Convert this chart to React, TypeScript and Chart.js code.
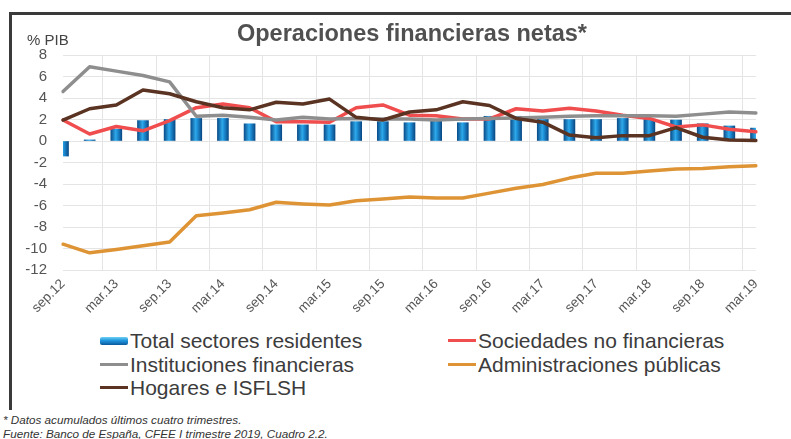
import React, { useEffect, useRef } from "react";
import { Chart, registerables } from "chart.js";
Chart.register(...registerables);

const quarters = [
  "sep.12", "dic.12", "mar.13", "jun.13", "sep.13", "dic.13", "mar.14", "jun.14",
  "sep.14", "dic.14", "mar.15", "jun.15", "sep.15", "dic.15", "mar.16", "jun.16",
  "sep.16", "dic.16", "mar.17", "jun.17", "sep.17", "dic.17", "mar.18", "jun.18",
  "sep.18", "dic.18", "mar.19",
];

const totalSectores = [
  -1.4, 0.1, 1.1, 1.9, 2.0, 2.1, 2.1, 1.6, 1.5, 1.5, 1.5, 1.8, 1.8, 1.7, 1.95, 1.7,
  2.3, 2.3, 2.0, 2.0, 2.0, 2.1, 2.0, 1.95, 1.6, 1.4, 1.2,
];
const sociedades = [
  1.95, 0.65, 1.35, 0.95, 1.9, 3.1, 3.45, 3.1, 1.8, 1.8, 1.75, 3.1, 3.35, 2.4, 2.35, 2.05,
  2.05, 3.0, 2.8, 3.05, 2.8, 2.4, 2.1, 1.3, 1.5, 1.1, 0.85,
];
const instituciones = [
  4.6, 6.9, 6.5, 6.1, 5.5, 2.3, 2.4, 2.2, 1.95, 2.2, 2.05, 2.1, 2.05, 2.05, 1.95, 2.05,
  2.1, 2.15, 2.2, 2.3, 2.35, 2.35, 2.35, 2.3, 2.5, 2.7, 2.6,
];
const administraciones = [
  -9.6, -10.4, -10.1, -9.75, -9.4, -6.95, -6.7, -6.4, -5.7, -5.85, -5.95, -5.55, -5.4, -5.2,
  -5.3, -5.3, -4.85, -4.4, -4.05, -3.45, -3.0, -3.0, -2.8, -2.6, -2.55, -2.4, -2.3,
];
const hogares = [
  1.95, 3.0, 3.35, 4.75, 4.4, 3.65, 3.1, 2.9, 3.6, 3.45, 3.9, 2.2, 1.95, 2.7, 2.9, 3.65,
  3.3, 2.1, 1.75, 0.55, 0.3, 0.5, 0.5, 1.25, 0.35, 0.1, 0.05,
];

const seriesNames = [
  "Total sectores residentes",
  "Sociedades no financieras",
  "Instituciones financieras",
  "Administraciones públicas",
  "Hogares e ISFLSH",
];
const seriesColors = ["#1a86c8", "#f04e4e", "#8e8e8e", "#de9435", "#5a3322"];

const FONT = '"Liberation Sans", Arial, Helvetica, sans-serif';

export default function App() {
  const canvasRef = useRef<HTMLCanvasElement | null>(null);

  useEffect(() => {
    const canvas = canvasRef.current;
    if (!canvas) return;

    const barFill = (ctx: any) => {
      const chart = ctx.chart;
      const xs = chart.scales && chart.scales.x;
      if (!xs || ctx.dataIndex === undefined) return "#1a86c8";
      const x = xs.getPixelForValue(ctx.dataIndex);
      if (!Number.isFinite(x)) return "#1a86c8";
      const g = chart.ctx.createLinearGradient(x - 5.5, 0, x + 5.5, 0);
      g.addColorStop(0, "#0b4f8c");
      g.addColorStop(0.45, "#2fa9ea");
      g.addColorStop(0.6, "#1d8fd6");
      g.addColorStop(1, "#0a4a86");
      return g;
    };

    const lineDs = (label: string, data: number[], color: string, order: number) => ({
      type: "line" as const,
      label,
      data,
      borderColor: color,
      backgroundColor: color,
      borderWidth: 3.5,
      pointRadius: 0,
      tension: 0,
      fill: false,
      order,
      borderJoinStyle: "round" as const,
      borderCapStyle: "round" as const,
    });

    const chart = new Chart(canvas, {
      type: "bar",
      data: {
        labels: quarters,
        datasets: [
          {
            type: "bar",
            label: seriesNames[0],
            data: totalSectores,
            backgroundColor: barFill,
            borderWidth: 0,
            barThickness: 11,
            order: 10,
          } as any,
          lineDs(seriesNames[1], sociedades, seriesColors[1], 4),
          lineDs(seriesNames[2], instituciones, seriesColors[2], 3),
          lineDs(seriesNames[3], administraciones, seriesColors[3], 2),
          lineDs(seriesNames[4], hogares, seriesColors[4], 1),
        ],
      },
      options: {
        responsive: false,
        animation: false,
        layout: { padding: { top: 55, right: 35, left: 0, bottom: 0 } },
        plugins: {
          legend: { display: false },
          title: { display: false },
          tooltip: { enabled: false },
        },
        scales: {
          x: {
            offset: false,
            grid: {
              color: (c: any) => (c.index % 2 === 0 ? "#e4e4e4" : "rgba(0,0,0,0)"),
              drawTicks: false,
              lineWidth: 1,
            },
            border: { display: false },
            ticks: {
              autoSkip: false,
              minRotation: 45,
              maxRotation: 45,
              padding: 6,
              color: "#555555",
              font: { family: FONT, size: 13.5 },
              callback: (_v: any, i: number) => (i % 2 === 0 ? quarters[i] : ""),
            },
            afterFit: (s: any) => {
              s.height = 50;
            },
          },
          y: {
            min: -12,
            max: 8,
            grid: { color: "#e4e4e4", drawTicks: false, lineWidth: 1 },
            border: { display: false },
            ticks: {
              stepSize: 2,
              padding: 16,
              color: "#555555",
              font: { family: FONT, size: 15 },
            },
            afterFit: (s: any) => {
              s.width = 63;
            },
          },
        },
      },
    });
    return () => chart.destroy();
  }, []);

  const legendItem = (i: number) => {
    const isBar = i === 0;
    return (
      <div style={{ display: "flex", alignItems: "center", height: 23.5 }}>
        {isBar ? (
          <span
            style={{
              display: "inline-block",
              width: 28,
              height: 8,
              marginRight: 2,
              borderRadius: 2,
              background: "linear-gradient(to bottom, #6fd0f5 0%, #1f95dc 45%, #0b5a9c 100%)",
            }}
          />
        ) : (
          <span
            style={{
              display: "inline-block",
              width: 28,
              height: 3,
              marginRight: 2,
              background: seriesColors[i],
            }}
          />
        )}
        <span>{seriesNames[i]}</span>
      </div>
    );
  };

  return (
    <div
      style={{
        position: "absolute",
        left: 0,
        top: 0,
        width: 791,
        height: 439,
        background: "#ffffff",
        overflow: "hidden",
        fontFamily: FONT,
      }}
    >
      <div style={{ position: "absolute", left: 10, top: 12, width: 781, height: 3, background: "#3a3a3a" }} />
      <div style={{ position: "absolute", left: 9, top: 12, width: 3, height: 398, background: "#3a3a3a" }} />
      <canvas
        ref={canvasRef}
        width={791}
        height={320}
        style={{ position: "absolute", left: 0, top: 0, width: 791, height: 320 }}
      />
      <div
        style={{
          position: "absolute",
          left: 27,
          top: 31,
          fontSize: 15,
          color: "#444444",
        }}
      >
        % PIB
      </div>
      <div
        style={{
          position: "absolute",
          left: 0,
          width: 824,
          top: 20,
          textAlign: "center",
          fontSize: 23.5,
          fontWeight: "bold",
          color: "#505050",
        }}
      >
        Operaciones financieras netas*
      </div>
      <div
        style={{
          position: "absolute",
          left: 100,
          top: 329,
          fontSize: 21,
          color: "#3c3c3c",
          lineHeight: "23.5px",
        }}
      >
        {legendItem(0)}
        {legendItem(2)}
        {legendItem(4)}
      </div>
      <div
        style={{
          position: "absolute",
          left: 448,
          top: 329,
          fontSize: 21,
          color: "#3c3c3c",
          lineHeight: "23.5px",
        }}
      >
        {legendItem(1)}
        {legendItem(3)}
      </div>
      <div
        style={{
          position: "absolute",
          left: 3,
          top: 413,
          fontSize: 11.7,
          fontStyle: "italic",
          color: "#333333",
          lineHeight: "14px",
        }}
      >
        <div>* Datos acumulados últimos cuatro trimestres.</div>
        <div>Fuente: Banco de España, CFEE I trimestre 2019, Cuadro 2.2.</div>
      </div>
    </div>
  );
}
